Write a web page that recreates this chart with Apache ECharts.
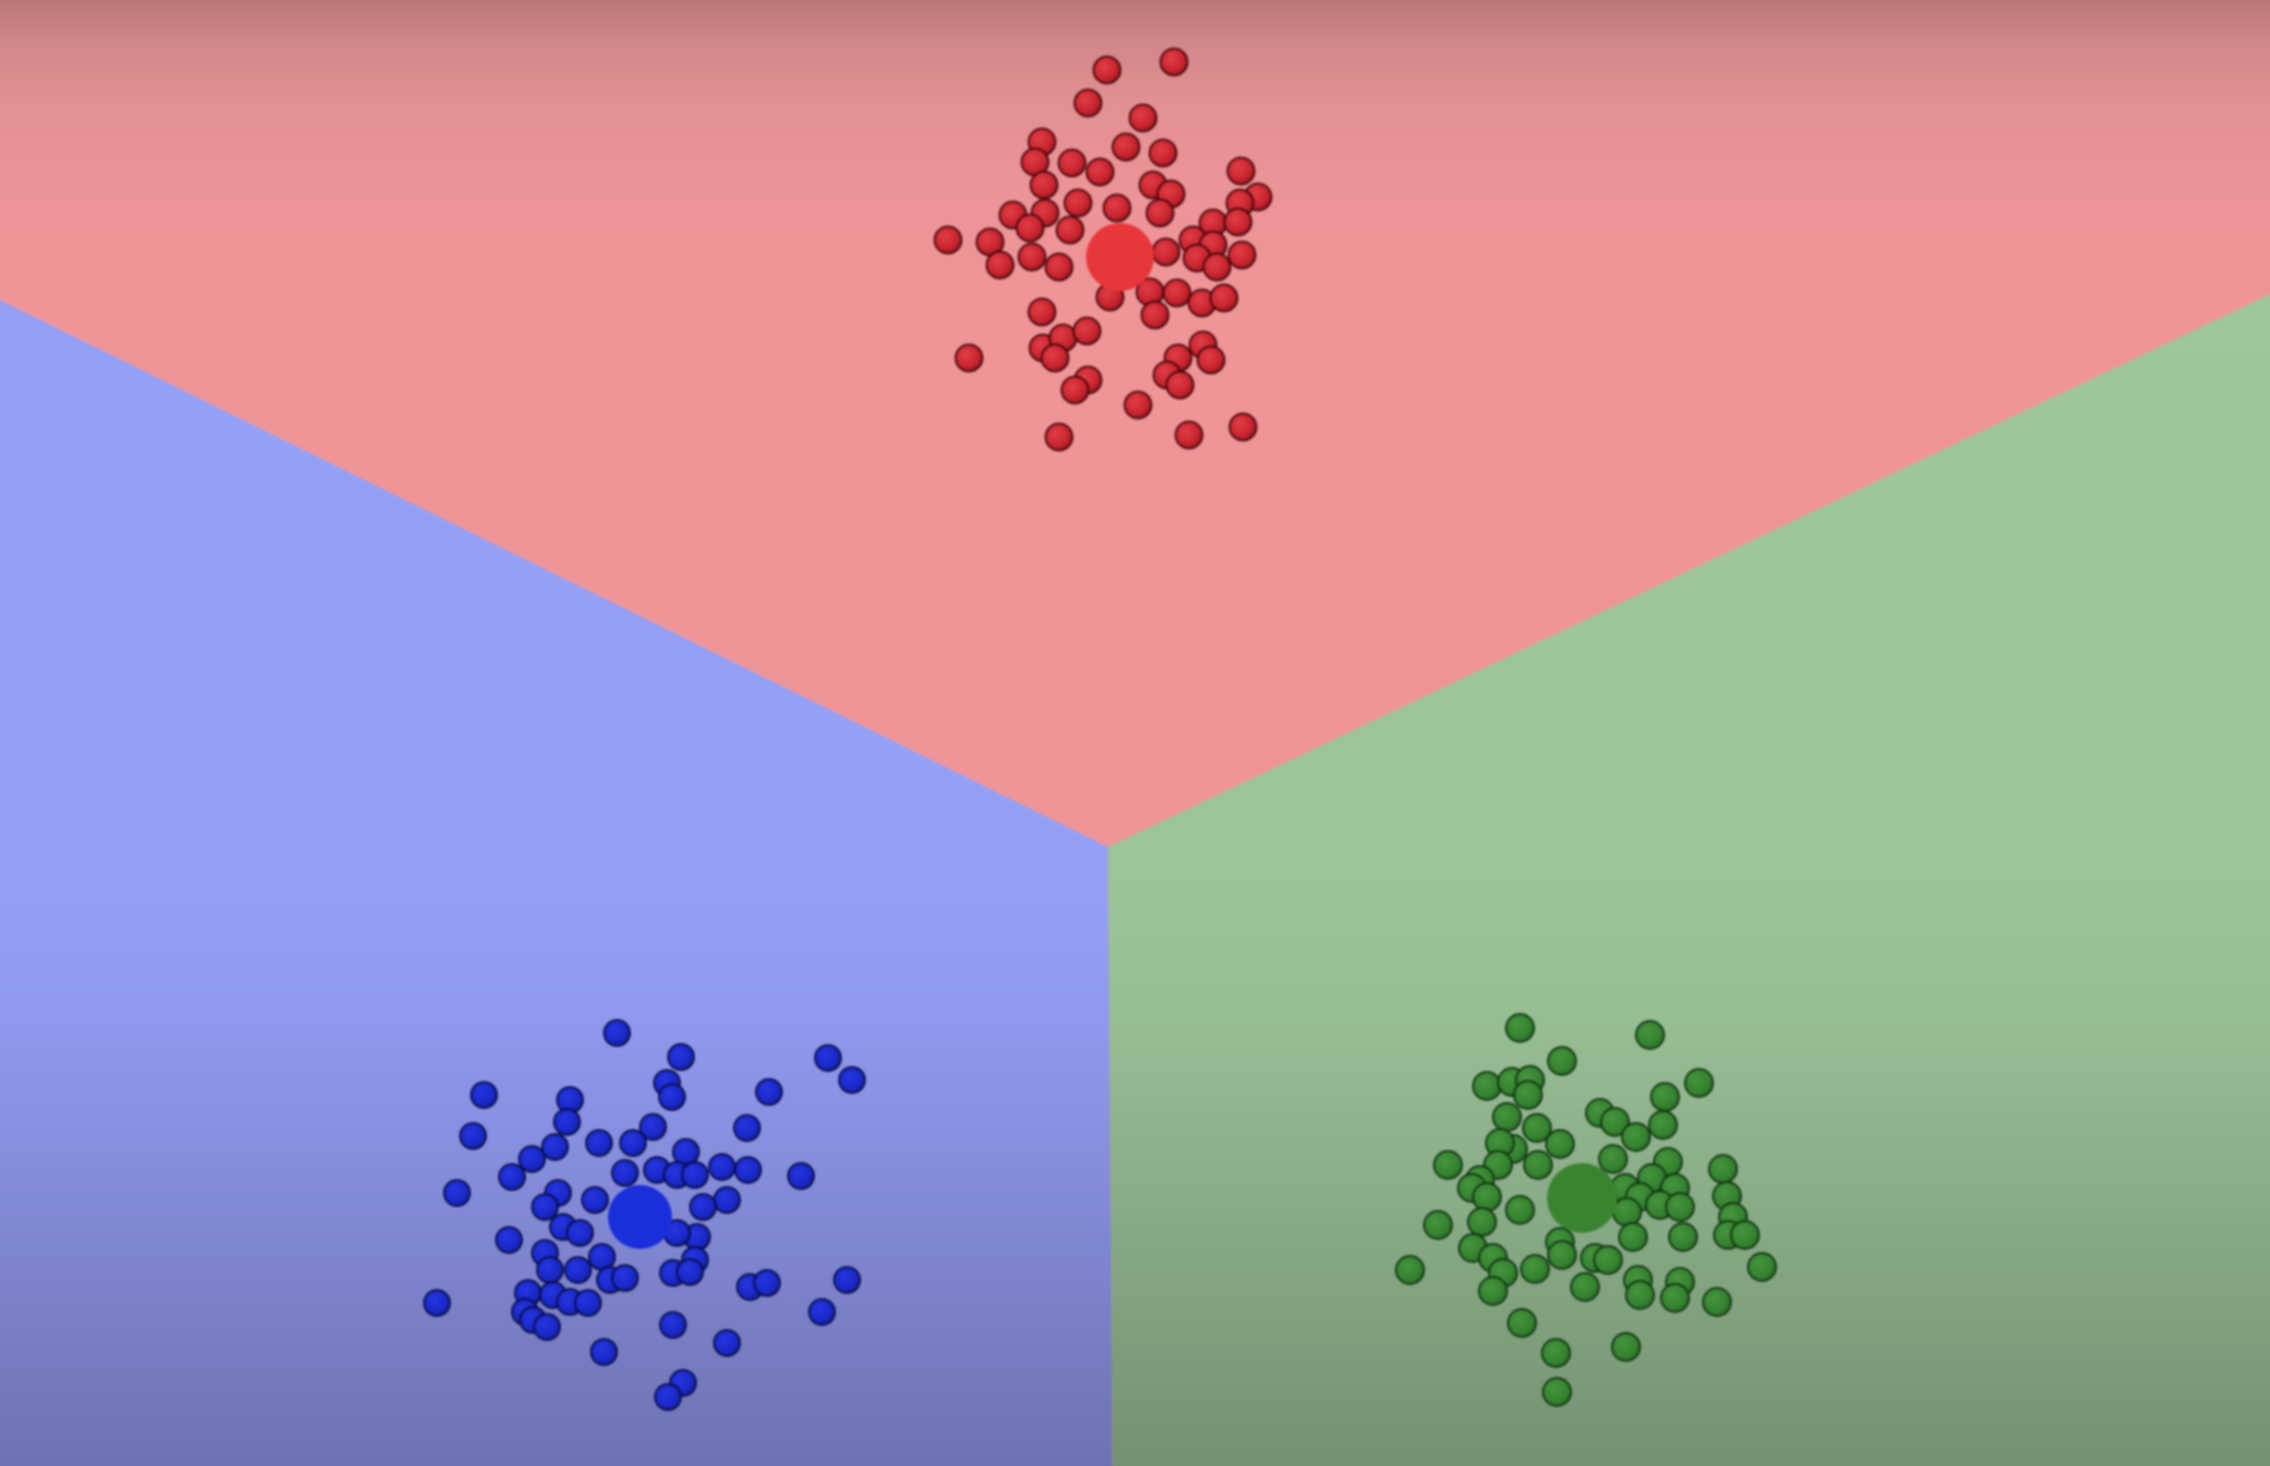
<!DOCTYPE html>
<html>
<head>
<meta charset="utf-8">
<title>K-means clusters</title>
<script src="https://cdn.jsdelivr.net/npm/echarts@6/dist/echarts.min.js"></script>
<style>
  html, body { margin: 0; padding: 0; background: #ef9598; overflow: hidden; }
  /* a bit bigger than the window so the soft edge stays outside */
  #chart { position: absolute; left: -12px; top: -12px; width: 2294px; height: 1490px; filter: blur(1.2px); }
</style>
</head>
<body>
<div id="chart"></div>
<script>
// decision regions (corner points of each cell)
const redRegion = [[-30, -30], [2300, -30], [2300, 280], [1108, 847], [-30, 285]];
const blueRegion = [[-30, 285], [1108, 847], [1113, 1500], [-30, 1500]];
const greenRegion = [[1108, 847], [2300, 280], [2300, 1500], [1113, 1500]];

// cluster centres
const redCenter = [[1120, 257]];
const blueCenter = [[640, 1217]];
const greenCenter = [[1582, 1198]];

// points of each cluster
const redPoints = [
  [1107, 70], [1174, 62], [1088, 103], [1143, 118], [1042, 142], [1035, 162], [1072, 163],
  [1100, 172], [1126, 147], [1163, 153], [1241, 171], [1044, 185], [1153, 185], [1171, 194],
  [1258, 197], [1240, 203], [1078, 203], [1117, 208], [1013, 215], [1045, 213], [1160, 213],
  [1213, 223], [1238, 222], [948, 240], [990, 242], [1030, 228], [1070, 230], [1193, 240],
  [1213, 245], [1166, 252], [1242, 255], [1000, 265], [1032, 257], [1059, 267], [1197, 258],
  [1217, 267], [1110, 297], [1150, 292], [1177, 293], [1202, 303], [1224, 298], [1155, 315],
  [1042, 312], [969, 358], [1043, 348], [1063, 338], [1087, 331], [1055, 358], [1203, 345],
  [1211, 360], [1178, 358], [1167, 375], [1180, 385], [1088, 380], [1075, 390], [1138, 405],
  [1059, 437], [1189, 435], [1243, 427]
];
const bluePoints = [
  [617, 1033], [681, 1057], [828, 1058], [852, 1080], [484, 1095], [570, 1100], [667, 1083],
  [672, 1097], [769, 1092], [473, 1136], [567, 1122], [555, 1147], [532, 1159], [512, 1177],
  [599, 1143], [653, 1127], [633, 1143], [747, 1128], [686, 1152], [657, 1170], [677, 1175],
  [695, 1175], [722, 1167], [748, 1170], [801, 1176], [625, 1173], [457, 1193], [558, 1193],
  [545, 1207], [595, 1200], [727, 1200], [703, 1207], [563, 1227], [580, 1233], [509, 1240],
  [697, 1237], [677, 1233], [545, 1253], [602, 1257], [550, 1270], [578, 1270], [695, 1260],
  [673, 1273], [690, 1272], [610, 1280], [625, 1278], [750, 1287], [767, 1283], [847, 1280],
  [437, 1303], [528, 1293], [553, 1295], [570, 1302], [588, 1303], [525, 1312], [533, 1320],
  [547, 1327], [822, 1312], [673, 1325], [727, 1343], [604, 1352], [683, 1383], [668, 1397]
];
const greenPoints = [
  [1520, 1028], [1650, 1035], [1562, 1061], [1487, 1086], [1512, 1082], [1530, 1080],
  [1528, 1095], [1699, 1083], [1665, 1097], [1507, 1117], [1537, 1128], [1600, 1113],
  [1615, 1122], [1636, 1137], [1663, 1125], [1560, 1144], [1513, 1149], [1500, 1143],
  [1448, 1165], [1498, 1165], [1538, 1165], [1613, 1159], [1668, 1162], [1723, 1169],
  [1480, 1180], [1472, 1188], [1487, 1197], [1652, 1178], [1675, 1188], [1625, 1188],
  [1640, 1197], [1727, 1196], [1520, 1210], [1627, 1212], [1660, 1205], [1680, 1207],
  [1438, 1225], [1482, 1222], [1733, 1217], [1728, 1235], [1745, 1235], [1633, 1237],
  [1683, 1237], [1560, 1242], [1562, 1255], [1473, 1248], [1493, 1258], [1595, 1258],
  [1608, 1260], [1410, 1270], [1535, 1269], [1503, 1273], [1762, 1267], [1493, 1291],
  [1585, 1287], [1638, 1280], [1640, 1295], [1680, 1282], [1675, 1298], [1717, 1302],
  [1522, 1323], [1626, 1347], [1556, 1353], [1557, 1392]
];

const chart = echarts.init(document.getElementById('chart'));

// vertical shading over the whole picture (div is offset 12px)
function vGrad(stops) {
  return {
    type: 'linear', x: 0, y: 12, x2: 0, y2: 1478, global: true,
    colorStops: stops.map(s => ({ offset: s[0], color: s[1] }))
  };
}
function ball(c0, c1, c2) {
  return {
    type: 'radial', x: 0.4, y: 0.38, r: 0.65,
    colorStops: [{ offset: 0, color: c0 }, { offset: 0.65, color: c1 }, { offset: 1, color: c2 }]
  };
}

const regions = [
  { pts: redRegion, fill: vGrad([[0, '#bb7676'], [0.03, '#d2878a'], [0.07, '#e29093'], [0.12, '#eb9497'], [0.2, '#ef9598'], [1, '#ef9598']]) },
  { pts: blueRegion, fill: vGrad([[0, '#96a0f5'], [0.6, '#95a0f4'], [0.7, '#8f98ec'], [0.76, '#8a91e3'], [1, '#6d73b2']]) },
  { pts: greenRegion, fill: vGrad([[0, '#9fc79b'], [0.6, '#9dc499'], [0.7, '#97bd94'], [0.76, '#91b48f'], [1, '#749272']]) }
];

const option = {
  animation: false,
  grid: { left: 12, right: 12, top: 12, bottom: 12 },
  xAxis: { type: 'value', min: 0, max: 2270, show: false },
  yAxis: { type: 'value', min: 0, max: 1466, inverse: true, show: false },
  series: [
    {
      type: 'custom',
      silent: true,
      clip: false,
      z: 1,
      data: regions.map((r, i) => [i]),
      renderItem: function (params, api) {
        const r = regions[api.value(0)];
        return {
          type: 'polygon',
          shape: { points: r.pts.map(p => api.coord(p)) },
          style: { fill: r.fill, stroke: null }
        };
      }
    },
    {
      type: 'scatter', z: 2, data: redPoints, symbolSize: 27,
      itemStyle: { color: ball('#e03e47', '#c8242e', '#8e161e'), borderColor: 'rgba(60,4,8,0.85)', borderWidth: 2, opacity: 1 }
    },
    {
      type: 'scatter', z: 2, data: bluePoints, symbolSize: 26,
      itemStyle: { color: ball('#2436e0', '#1a28c8', '#121c96'), borderColor: 'rgba(5,10,60,0.85)', borderWidth: 2, opacity: 1 }
    },
    {
      type: 'scatter', z: 2, data: greenPoints, symbolSize: 28,
      itemStyle: { color: ball('#46943f', '#358330', '#276a24'), borderColor: 'rgba(15,50,15,0.9)', borderWidth: 2, opacity: 1 }
    },
    { type: 'scatter', z: 3, data: redCenter, symbolSize: 68, itemStyle: { color: '#e8373a', opacity: 1 } },
    { type: 'scatter', z: 3, data: blueCenter, symbolSize: 64, itemStyle: { color: '#1a2fdc', opacity: 1 } },
    { type: 'scatter', z: 3, data: greenCenter, symbolSize: 70, itemStyle: { color: '#3a8431', opacity: 1 } }
  ]
};

chart.setOption(option);
window.addEventListener('resize', () => chart.resize());
</script>
</body>
</html>
